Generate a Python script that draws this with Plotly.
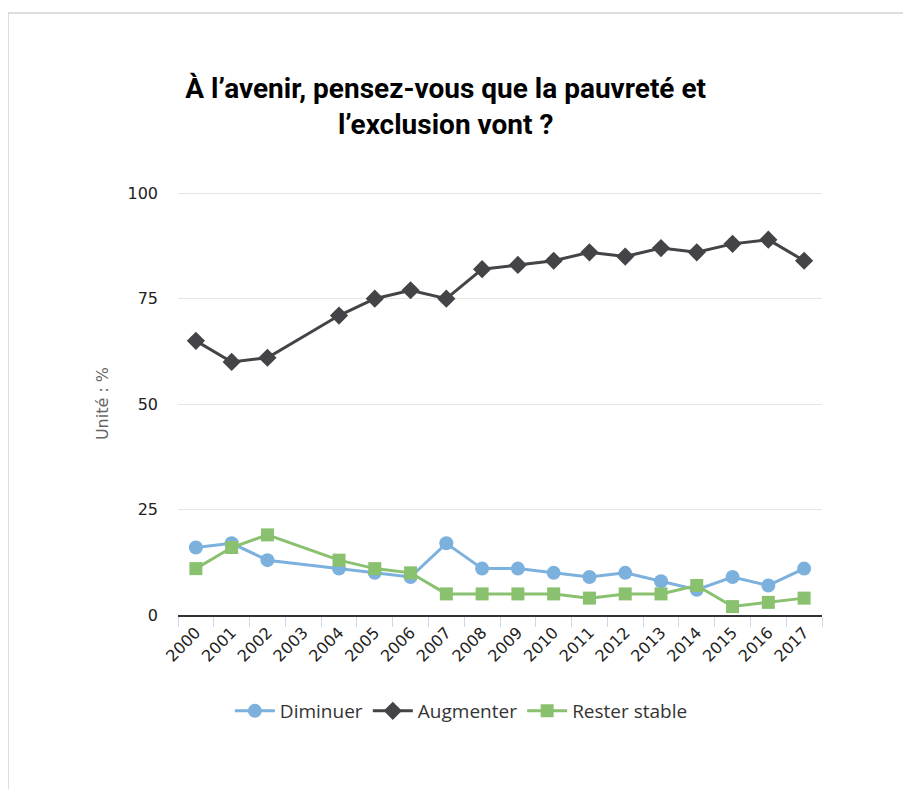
import plotly.graph_objects as go

years = [str(y) for y in range(2000, 2018)]

# 2003: pas de données
diminuer = [16, 17, 13, None, 11, 10, 9, 17, 11, 11, 10, 9, 10, 8, 6, 9, 7, 11]
augmenter = [65, 60, 61, None, 71, 75, 77, 75, 82, 83, 84, 86, 85, 87, 86, 88, 89, 84]
rester_stable = [11, 16, 19, None, 13, 11, 10, 5, 5, 5, 5, 4, 5, 5, 7, 2, 3, 4]

series = [
    ("Diminuer", diminuer, "#7cb0dd", "circle", 14),
    ("Augmenter", augmenter, "#434348", "diamond", 14),
    ("Rester stable", rester_stable, "#89c16f", "square", 13),
]

fig = go.Figure()

for name, values, color, symbol, size in series:
    fig.add_trace(
        go.Scatter(
            x=years,
            y=values,
            name=name,
            mode="lines+markers",
            connectgaps=True,
            line={"color": color, "width": 3},
            marker={"symbol": symbol, "size": size, "color": color},
        )
    )

# cadre gris clair autour du graphique
fig.add_shape(
    type="line", xref="paper", yref="paper",
    x0=-0.264, x1=1.2, y0=1.423, y1=1.423,
    line={"color": "#dddddd", "width": 2},
)
fig.add_shape(
    type="line", xref="paper", yref="paper",
    x0=-0.264, x1=-0.264, y0=1.423, y1=-0.5,
    line={"color": "#dddddd", "width": 2},
)

fig.update_layout(
    width=895,
    height=781,
    margin={"l": 170, "r": 81, "t": 184, "b": 174},
    plot_bgcolor="white",
    paper_bgcolor="white",
    title={
        "text": "<b>À l’avenir, pensez-vous que la pauvreté et<br>l’exclusion vont ?</b>",
        "x": 0.489,
        "xanchor": "center",
        "y": 0.885,
        "yanchor": "middle",
        "font": {
            "family": "Roboto, sans-serif",
            "size": 28,
            "color": "#000000",
        },
    },
    font={"family": "DejaVu Sans, sans-serif", "color": "#333333"},
    showlegend=True,
    legend={
        "orientation": "h",
        "x": 0.44,
        "xanchor": "center",
        "y": -0.227,
        "yanchor": "middle",
        "font": {"family": "Open Sans, sans-serif", "size": 19, "color": "#333333"},
        "itemwidth": 40,
    },
)

fig.update_xaxes(
    type="category",
    range=[-0.5, 17.5],
    tickson="boundaries",
    ticks="outside",
    ticklen=10,
    tickcolor="#ccd6eb",
    tickwidth=1,
    tickangle=-45,
    tickfont={"size": 16, "color": "#222222"},
    showline=True,
    linecolor="#333333",
    linewidth=2,
    showgrid=False,
)

fig.update_yaxes(
    range=[0, 100.3],
    tickvals=[0, 25, 50, 75, 100],
    showgrid=True,
    gridcolor="#e6e6e6",
    gridwidth=1,
    zeroline=False,
    showline=False,
    ticks="",
    ticklabelstandoff=19,
    tickfont={"size": 16, "color": "#222222"},
    title={
        "text": "Unité : %",
        "font": {"size": 16, "color": "#666666"},
        "standoff": 14,
    },
)

fig.write_html("out.html")
